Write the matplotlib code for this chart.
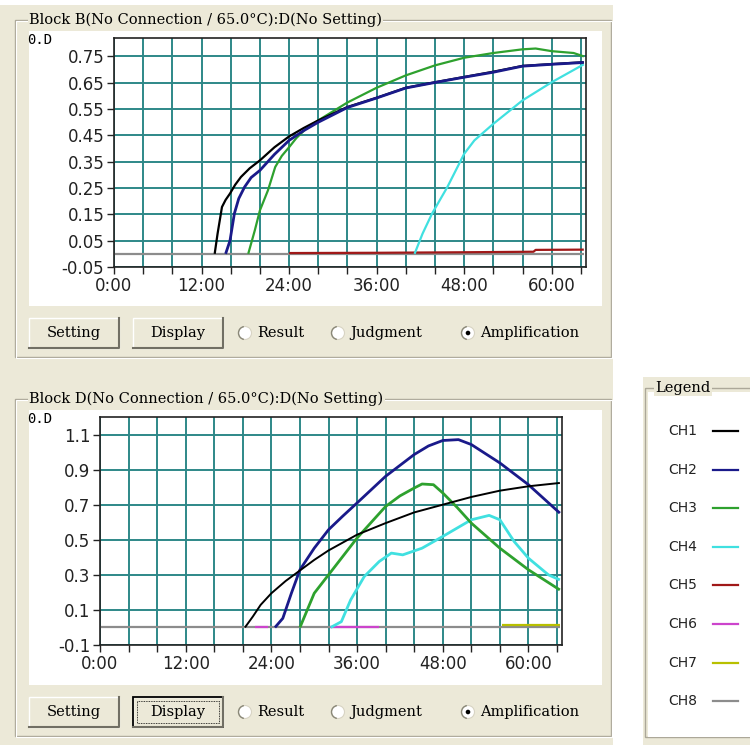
import numpy as np
import matplotlib.pyplot as plt
from matplotlib.patches import Rectangle, Circle, Arc

# ---- data (hours, O.D) ----
channels = ['CH1', 'CH2', 'CH3', 'CH4', 'CH5', 'CH6', 'CH7', 'CH8']
ch_colors = ['#000000', '#1a1a8a', '#2ea12e', '#40e0e0', '#a01818', '#cc44cc', '#b8c000', '#8c8c8c']

# Block B
b_ch1_h = [13.8, 14.2, 14.8, 15.3, 15.9, 16.6, 17.4, 18.6, 20, 22, 24, 26, 28, 32, 36, 40, 44, 48, 52, 56, 60, 64.4]
b_ch1_v = [0, 0.077, 0.178, 0.205, 0.229, 0.262, 0.292, 0.325, 0.355, 0.405, 0.446, 0.478, 0.507, 0.558, 0.593, 0.631,
           0.652, 0.672, 0.692, 0.714, 0.721, 0.728]
b_ch2_h = [15.3, 15.9, 16.5, 17.1, 17.9, 18.8, 20, 22, 24, 26, 28, 32, 36, 40, 44, 48, 52, 56, 60, 64.4]
b_ch2_v = [0, 0.05, 0.153, 0.21, 0.254, 0.29, 0.317, 0.378, 0.431, 0.468, 0.50, 0.556, 0.592, 0.63, 0.651, 0.671,
           0.69, 0.713, 0.72, 0.727]
b_ch3_h = [18.4, 19.3, 20, 21.1, 22.1, 23, 24, 25, 26.3, 28, 32, 36, 40, 44, 48, 52, 56, 57.8, 60, 63, 64.4]
b_ch3_v = [0, 0.089, 0.165, 0.241, 0.33, 0.372, 0.405, 0.44, 0.475, 0.507, 0.575, 0.631, 0.678, 0.716, 0.745, 0.763,
           0.777, 0.78, 0.77, 0.763, 0.75]
b_ch4_h = [41.2, 42.3, 43.6, 45.7, 48, 49.4, 52, 56, 60, 64.4]
b_ch4_v = [0, 0.077, 0.153, 0.254, 0.38, 0.431, 0.494, 0.583, 0.652, 0.72]
b_ch5_h = [24, 36, 48, 57.5, 57.8, 64.4]
b_ch5_v = [0.003, 0.004, 0.006, 0.008, 0.015, 0.016]
b_ch8_h = [0, 64.4]
b_ch8_v = [0, 0]

# Block D
d_ch1_h = [20.3, 21.4, 22.5, 24, 26, 28, 30, 32, 36, 40, 44, 48, 52, 56, 60, 64.4]
d_ch1_v = [0, 0.062, 0.129, 0.195, 0.265, 0.325, 0.385, 0.439, 0.529, 0.595, 0.656, 0.70, 0.744, 0.78, 0.805, 0.824]
d_ch2_h = [24.5, 25.6, 26.8, 28, 30, 32, 34, 36, 40, 44, 46, 48, 50.2, 52, 56, 60, 64.4]
d_ch2_v = [0, 0.052, 0.195, 0.329, 0.452, 0.557, 0.635, 0.71, 0.862, 0.986, 1.035, 1.066, 1.071, 1.043, 0.938, 0.814,
           0.652]
d_ch3_h = [28, 30, 32, 36, 40, 42, 44, 45.1, 46.7, 48, 50, 52, 56, 60, 64.4]
d_ch3_v = [0, 0.195, 0.30, 0.51, 0.69, 0.75, 0.795, 0.818, 0.814, 0.767, 0.685, 0.595, 0.452, 0.329, 0.214]
d_ch4_h = [32.3, 33.8, 35.1, 37, 39.1, 40.8, 42.4, 45.1, 48, 52, 54.5, 56, 58, 60, 62.8, 64.4]
d_ch4_v = [0, 0.033, 0.157, 0.29, 0.376, 0.424, 0.414, 0.452, 0.519, 0.614, 0.639, 0.614, 0.49, 0.395, 0.30, 0.271]
d_ch6_h = [21.7, 23.5, np.nan, 32.2, 39.1]
d_ch6_v = [0.003, 0.003, np.nan, 0.003, 0.003]
d_ch7_h = [56.3, 64.4]
d_ch7_v = [0.012, 0.012]
d_ch8_h = [0, 64.4]
d_ch8_v = [0, 0]

x_ticks = list(range(0, 65, 4))
x_labels = ['%d:00' % h if h % 12 == 0 else '' for h in x_ticks]
b_yticks = [-0.05, 0.05, 0.15, 0.25, 0.35, 0.45, 0.55, 0.65, 0.75]
b_ylabels = ['-0.05', '0.05', '0.15', '0.25', '0.35', '0.45', '0.55', '0.65', '0.75']
d_yticks = [-0.1, 0.1, 0.3, 0.5, 0.7, 0.9, 1.1]
d_ylabels = ['-0.1', '0.1', '0.3', '0.5', '0.7', '0.9', '1.1']

W, H = 750, 745
BEIGE = '#ece9d8'
GRID = '#2e8888'
SERIF = 'DejaVu Serif'

fig = plt.figure(figsize=(7.5, 7.45), dpi=100)
bg = fig.add_axes([0, 0, 1, 1])
bg.set_xlim(0, W)
bg.set_ylim(H, 0)
bg.axis('off')


def px_axes(x0, y0, x1, y1):
    return fig.add_axes([x0 / W, 1 - y1 / H, (x1 - x0) / W, (y1 - y0) / H])


def group(x0, y0, x1, y1, title):
    bg.add_patch(Rectangle((x0, y0), x1 - x0, y1 - y0, fill=False, ec='#aca899', lw=1))
    bg.add_patch(Rectangle((x0 + 1, y0 + 1), x1 - x0, y1 - y0, fill=False, ec='white', lw=0.8))
    bg.text(x0 + 14, y0, title, family=SERIF, fontsize=10.5, va='center', ha='left',
            bbox=dict(fc=BEIGE, ec='none', pad=1))


def button(x0, y0, x1, y1, label, focus=False):
    bg.add_patch(Rectangle((x0, y0), x1 - x0, y1 - y0, fc=BEIGE, ec='white', lw=1))
    bg.plot([x0, x1, x1], [y1, y1, y0], color='#716f64', lw=1.5)
    if focus:
        bg.add_patch(Rectangle((x0, y0), x1 - x0, y1 - y0, fill=False, ec='black', lw=1.3))
        bg.add_patch(Rectangle((x0 + 4, y0 + 4), x1 - x0 - 8, y1 - y0 - 8, fill=False,
                               ec='black', lw=0.6, ls=(0, (1, 1))))
    bg.text((x0 + x1) / 2, (y0 + y1) / 2, label, family=SERIF, fontsize=10.5, ha='center', va='center')


def radio(x, y, label, checked=False):
    bg.add_patch(Circle((x, y), 6.5, fc='white', ec='#d8d4c4', lw=0.8))
    bg.add_patch(Arc((x, y), 13, 13, theta1=100, theta2=260, color='#8a8878', lw=1))
    if checked:
        bg.add_patch(Circle((x, y), 2.3, fc='black', ec='none'))
    bg.text(x + 12, y, label, family=SERIF, fontsize=10.5, ha='left', va='center')


# background panels
bg.add_patch(Rectangle((0, 5), 613, 740, fc=BEIGE, ec='none'))
bg.add_patch(Rectangle((643, 377), 110, 370, fc=BEIGE, ec='none'))


def draw_block(top, ax_box, series, ylim, yticks, ylabels, title, focus):
    # top: y of the group title line
    group(15, top, 611, top + 337, title)
    bg.add_patch(Rectangle((29, top + 11), 573, 275, fc='white', ec='none'))
    bg.text(27, top + 20, '0.D', family='DejaVu Sans Mono', fontsize=10, ha='left', va='center')
    ax = px_axes(*ax_box)
    for h, v, c, lw in series:
        ax.plot(h, v, color=c, lw=lw, solid_capstyle='butt')
    ax.set_xlim(0, 64.7)
    ax.set_ylim(*ylim)
    ax.set_xticks(x_ticks)
    ax.set_xticklabels(x_labels)
    ax.set_yticks(yticks)
    ax.set_yticklabels(ylabels)
    ax.grid(True, color=GRID, lw=1.4)
    ax.set_axisbelow(True)
    ax.tick_params(direction='out', length=5, width=1, color='#222222', pad=2,
                   labelsize=12, labelcolor='#222222')
    for s in ax.spines.values():
        s.set_color('#222222')
        s.set_linewidth(1.2)
    by = top + 313
    button(29, by - 15, 119, by + 15, 'Setting')
    button(133, by - 15, 223, by + 15, 'Display', focus)
    radio(245, by, 'Result')
    radio(338, by, 'Judgment')
    radio(468, by, 'Amplification', True)
    return ax


b_series = [
    (b_ch8_h, b_ch8_v, ch_colors[7], 1.6),
    (b_ch5_h, b_ch5_v, ch_colors[4], 1.6),
    (b_ch4_h, b_ch4_v, ch_colors[3], 1.6),
    (b_ch3_h, b_ch3_v, ch_colors[2], 1.6),
    (b_ch1_h, b_ch1_v, ch_colors[0], 1.6),
    (b_ch2_h, b_ch2_v, ch_colors[1], 2.0),
]
d_series = [
    (d_ch8_h, d_ch8_v, ch_colors[7], 1.6),
    (d_ch6_h, d_ch6_v, ch_colors[5], 1.6),
    (d_ch7_h, d_ch7_v, ch_colors[6], 1.6),
    (d_ch4_h, d_ch4_v, ch_colors[3], 2.0),
    (d_ch3_h, d_ch3_v, ch_colors[2], 2.0),
    (d_ch2_h, d_ch2_v, ch_colors[1], 2.0),
    (d_ch1_h, d_ch1_v, ch_colors[0], 1.4),
]

draw_block(20, (114, 38, 586, 267), b_series, (-0.05, 0.82), b_yticks, b_ylabels,
           'Block B(No Connection / 65.0°C):D(No Setting)', False)
draw_block(399, (100, 417, 562, 645), d_series, (-0.1, 1.2), d_yticks, d_ylabels,
           'Block D(No Connection / 65.0°C):D(No Setting)', True)

# legend panel
bg.add_patch(Rectangle((645, 388), 120, 349, fill=False, ec='#aca899', lw=1))
bg.add_patch(Rectangle((648, 392), 110, 345, fc='white', ec='none'))
bg.text(655, 388, 'Legend', family=SERIF, fontsize=10.5, ha='left', va='center',
        bbox=dict(fc=BEIGE, ec='none', pad=1))
for i, (name, c) in enumerate(zip(channels, ch_colors)):
    y = 431 + i * 38.6
    bg.text(668, y, name, family='DejaVu Sans', fontsize=10, ha='left', va='center', color='#222222')
    bg.plot([713, 738], [y, y], color=c, lw=1.6)

fig.savefig('out.png', dpi=100)
